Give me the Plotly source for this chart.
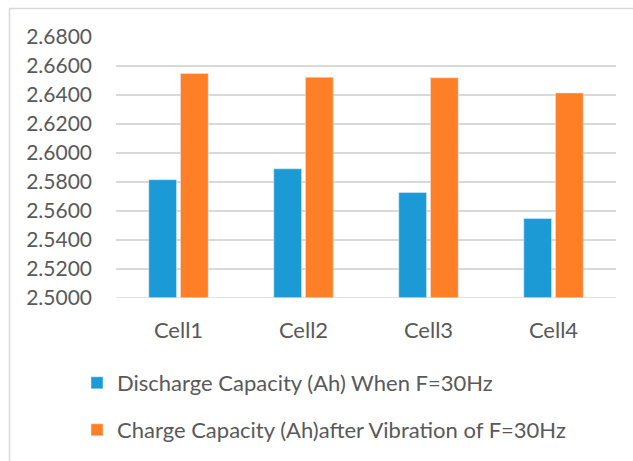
import plotly.graph_objects as go

categories = ["Cell1", "Cell2", "Cell3", "Cell4"]
discharge = [2.5816, 2.5891, 2.5727, 2.5548]
charge = [2.6549, 2.6522, 2.6519, 2.6414]
series_names = ["Discharge Capacity (Ah) When F=30Hz",
                "Charge Capacity (Ah)after Vibration of F=30Hz"]
tick_vals = [2.50, 2.52, 2.54, 2.56, 2.58, 2.60, 2.62, 2.64, 2.66, 2.68]

W, H = 633, 461
L, R, T, B = 116, 17, 37, 162
FONT = "Lato"
GRAY = "#595959"
GRID = "#d9d9d9"

fig = go.Figure()
fig.add_trace(go.Bar(x=categories, y=discharge, name=series_names[0],
                     marker_color="#1c9ad6", legend="legend"))
fig.add_trace(go.Bar(x=categories, y=charge, name=series_names[1],
                     marker_color="#ff7f27", legend="legend2"))

pw = W - L - R
ph = H - T - B
def px2x(p):
    return (p - L) / pw
def py2y(p):
    return (H - B - p) / ph

leg_common = dict(orientation="v", xanchor="left", yanchor="middle",
                  font=dict(family=FONT, size=22, color=GRAY),
                  bgcolor="rgba(0,0,0,0)")

fig.update_layout(
    width=W, height=H,
    margin=dict(l=L, r=R, t=T, b=B, pad=0),
    paper_bgcolor="white", plot_bgcolor="white",
    barmode="group", bargap=0.493, bargroupgap=0.125,
    font=dict(family=FONT, color=GRAY, size=21),
    showlegend=True,
    legend=dict(x=px2x(77), y=py2y(383), **leg_common),
    legend2=dict(x=px2x(77), y=py2y(430), **leg_common),
    xaxis=dict(showgrid=False, showline=False, ticks="", zeroline=False,
               ticklabelstandoff=17, tickfont=dict(size=22, color=GRAY)),
    yaxis=dict(range=[2.5, 2.68], tickvals=tick_vals, tickformat=".4f",
               showgrid=True, gridcolor=GRID, gridwidth=1.6,
               zeroline=False, showline=False, ticks="",
               ticklabelstandoff=23, tickfont=dict(size=21, color=GRAY)),
    shapes=[
        dict(type="line", xref="paper", yref="paper",
             x0=px2x(9), x1=px2x(640), y0=py2y(8.5), y1=py2y(8.5),
             line=dict(color=GRID, width=1.5)),
        dict(type="line", xref="paper", yref="paper",
             x0=px2x(9.5), x1=px2x(9.5), y0=py2y(8.5), y1=py2y(470),
             line=dict(color=GRID, width=1.5)),
        dict(type="line", xref="paper", yref="y",
             x0=0, x1=1, y0=2.5, y1=2.5,
             line=dict(color=GRID, width=1.6)),
    ],
)
fig.write_html("out.html")
